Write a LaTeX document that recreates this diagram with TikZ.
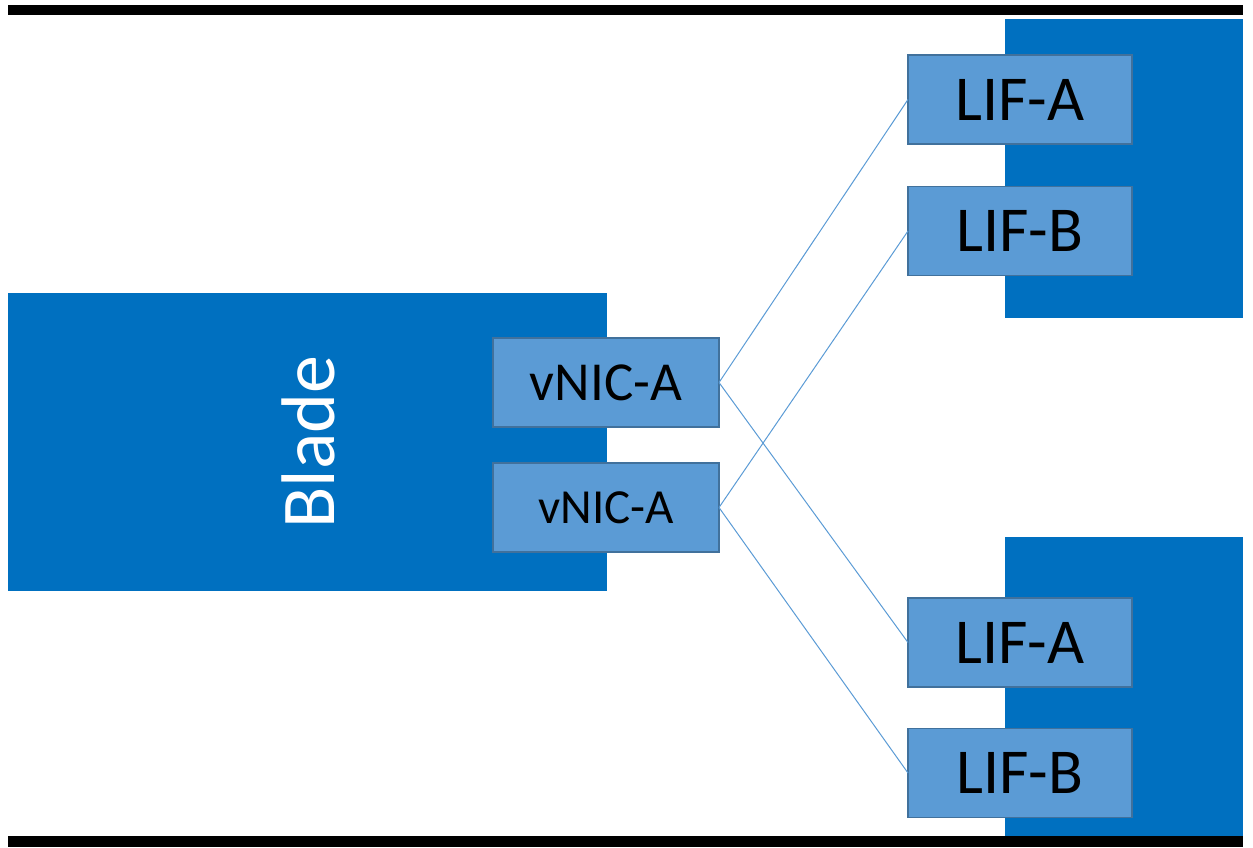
\documentclass[tikz,border=0pt]{standalone}
\usepackage{fontspec}
\setmainfont{Carlito}
\usepackage{xcolor}
\usepackage{tikz}
\usetikzlibrary{positioning, calc}

\definecolor{bladeblue}{HTML}{0070C0}
\definecolor{portblue}{HTML}{5B9BD5}
\definecolor{portedge}{HTML}{41719C}

\begin{document}
\begin{tikzpicture}[x=0.5pt, y=-0.5pt,
    port/.style={draw=portedge, line width=0.75pt, fill=portblue, inner sep=0pt, outer sep=0pt, minimum height=44.5pt},
    lif/.style={port, minimum width=112pt, font=\fontsize{32}{38}\selectfont},
    vnic/.style={port, minimum width=113pt},
    link/.style={draw=portblue, line width=0.5pt}]
    \useasboundingbox (0,0) rectangle (1253,847);

    % frame bars
    \fill[black] (8,5) rectangle (1243,15);
    \fill[black] (8,836) rectangle (1243,847);

    % blade and the two storage controllers
    \fill[bladeblue] (8,293) rectangle (607,591);
    \fill[bladeblue] (1005,19) rectangle (1243,318);
    \fill[bladeblue] (1005,537) rectangle (1243,836);
    \node[white, rotate=90, anchor=base, font=\fontsize{38}{44}\selectfont] (blade) at (334,442) {Blade};

    % ports
    \node[vnic, font=\fontsize{27.5}{33}\selectfont] (vnicA) at (606,382.5) {vNIC-A};
    \node[vnic, font=\fontsize{24.5}{30}\selectfont] (vnicB) at (606,507.5) {vNIC-A};

    \node[lif] (lifA1) at (1020,99.5) {LIF-A};
    \node[lif] (lifB1) at (1020,231) {LIF-B};
    \node[lif] (lifA2) at (1020,642.5) {LIF-A};
    \node[lif] (lifB2) at (1020,773) {LIF-B};

    % links
    \draw[link] (vnicA.east) -- (lifA1.west);
    \draw[link] (vnicA.east) -- (lifA2.west);
    \draw[link] (vnicB.east) -- (lifB1.west);
    \draw[link] (vnicB.east) -- (lifB2.west);
\end{tikzpicture}
\end{document}
